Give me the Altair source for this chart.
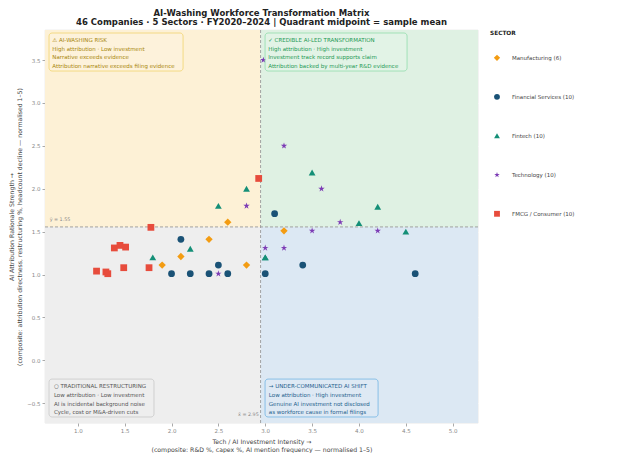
import altair as alt
import pandas as pd

# ---------------- data ----------------
sectors = ["Manufacturing", "Financial Services", "Fintech", "Technology", "FMCG / Consumer"]

mfg_x = [2.60, 2.40, 2.10, 1.90, 2.80, 3.20]
mfg_y = [1.61, 1.41, 1.21, 1.11, 1.11, 1.51]
fs_x = [3.10, 2.10, 2.50, 2.00, 2.20, 2.40, 2.60, 3.00, 3.40, 4.60]
fs_y = [1.71, 1.41, 1.11, 1.01, 1.01, 1.01, 1.01, 1.01, 1.11, 1.01]
fin_x = [2.80, 2.50, 2.20, 1.80, 3.50, 4.20, 4.00, 4.50, 3.00, 3.00]
fin_y = [2.00, 1.80, 1.30, 1.20, 2.19, 1.79, 1.60, 1.50, 1.20, 1.20]
tech_x = [2.80, 3.20, 3.60, 3.80, 3.50, 4.20, 3.00, 3.20, 2.50, 2.98]
tech_y = [1.80, 2.50, 2.00, 1.61, 1.51, 1.51, 1.31, 1.31, 1.01, 3.50]
fmcg_x = [2.93, 1.78, 1.39, 1.45, 1.51, 1.49, 1.76, 1.20, 1.30, 1.32]
fmcg_y = [2.12, 1.55, 1.31, 1.34, 1.32, 1.08, 1.08, 1.04, 1.03, 1.01]

x_mean = 2.95
y_mean = 1.555

x_ticks = [1.0, 1.5, 2.0, 2.5, 3.0, 3.5, 4.0, 4.5, 5.0]
y_ticks = [-0.5, 0.0, 0.5, 1.0, 1.5, 2.0, 2.5, 3.0, 3.5]
x_dom = [0.65, 5.27]
y_dom = [-0.73, 3.85]

colors = ["#f39c12", "#1a5276", "#148f77", "#7d3cb5", "#e74c3c"]
star = ("M0,-1L0.2245,-0.309L0.951,-0.309L0.363,0.118L0.588,0.809L0,0.382"
        "L-0.588,0.809L-0.363,0.118L-0.951,-0.309L-0.2245,-0.309Z")
diamond = "M0,-1.08L1.08,0L0,1.08L-1.08,0Z"
shapes = [diamond, "circle", "triangle-up", star, "square"]

# ---------------- tables ----------------
groups = [(mfg_x, mfg_y), (fs_x, fs_y), (fin_x, fin_y), (tech_x, tech_y), (fmcg_x, fmcg_y)]
labels = [f"{s} ({len(g[0])})" for s, g in zip(sectors, groups)]
rows = []
for lab, (xs, ys) in zip(labels, groups):
    for a, b in zip(xs, ys):
        rows.append({"x": a, "y": b, "sector": lab})
pts = pd.DataFrame(rows)

quad = pd.DataFrame([
    {"x": x_dom[0], "x2": x_mean, "y": y_mean, "y2": y_dom[1], "c": "#fdf1d6"},
    {"x": x_mean, "x2": x_dom[1], "y": y_mean, "y2": y_dom[1], "c": "#dff1e3"},
    {"x": x_dom[0], "x2": x_mean, "y": y_dom[0], "y2": y_mean, "c": "#eeeeee"},
    {"x": x_mean, "x2": x_dom[1], "y": y_dom[0], "y2": y_mean, "c": "#dce8f3"},
])

boxes = pd.DataFrame([
    {"x": 0.693, "x2": 2.123, "y": 3.815, "y2": 3.372, "f": "#fdf3dc", "s": "#f2d46b"},
    {"x": 2.998, "x2": 4.513, "y": 3.815, "y2": 3.372, "f": "#e3f4e7", "s": "#8fdcaa"},
    {"x": 0.693, "x2": 1.813, "y": -0.218, "y2": -0.660, "f": "#efefef", "s": "#c8c8c8"},
    {"x": 2.998, "x2": 4.204, "y": -0.218, "y2": -0.660, "f": "#dfeaf5", "s": "#6fb3e3"},
])

box_text = {
    "tl": ["⚠  AI-WASHING RISK", "High attribution · Low investment",
           "Narrative exceeds evidence", "Attribution narrative exceeds filing evidence"],
    "tr": ["✓  CREDIBLE AI-LED TRANSFORMATION", "High attribution · High investment",
           "Investment track record supports claim", "Attribution backed by multi-year R&D evidence"],
    "bl": ["○  TRADITIONAL RESTRUCTURING", "Low attribution · Low investment",
           "AI is incidental background noise", "Cycle, cost or M&A-driven cuts"],
    "br": ["→  UNDER-COMMUNICATED AI SHIFT", "Low attribution · High investment",
           "Genuine AI investment not disclosed", "as workforce cause in formal filings"],
}
box_pos = {
    "tl": (0.728, [3.733, 3.634, 3.535, 3.436], "#a8860a"),
    "tr": (3.032, [3.733, 3.634, 3.535, 3.436], "#229954"),
    "bl": (0.745, [-0.303, -0.404, -0.505, -0.606], "#555555"),
    "br": (3.038, [-0.303, -0.404, -0.505, -0.606], "#1f618d"),
}
trows = []
for k, lines in box_text.items():
    bx, ys, col = box_pos[k]
    for t, yy in zip(lines, ys):
        trows.append({"x": bx, "y": yy, "t": t, "c": col})
tdf = pd.DataFrame(trows)

means = pd.DataFrame([{"xm": x_mean, "ym": y_mean}])
mean_lab = pd.DataFrame([{"x": 0.70, "y": y_mean + 0.06, "t": f"ȳ = {y_mean:.2f}"}])
xmean_lab = pd.DataFrame([{"x": x_mean - 0.02, "y": -0.64, "t": f"x̄ = {x_mean:.2f}"}])

FONT = "DejaVu Sans"

xs = alt.Scale(domain=x_dom, nice=False, zero=False)
ys_ = alt.Scale(domain=y_dom, nice=False, zero=False)

x_axis = alt.Axis(values=x_ticks, format=".1f",
                  title=["Tech / AI Investment Intensity  →",
                         "(composite: R&D %, capex %, AI mention frequency — normalised 1–5)"])
y_axis = alt.Axis(values=y_ticks, format=".1f",
                  title=["AI Attribution Rationale Strength  →",
                         "(composite: attribution directness, restructuring %, headcount decline — normalised 1–5)"])

q = alt.Chart(quad).mark_rect().encode(
    x=alt.X("x:Q", scale=xs, axis=x_axis), x2="x2:Q",
    y=alt.Y("y:Q", scale=ys_, axis=y_axis), y2="y2:Q",
    fill=alt.Fill("c:N", scale=None),
)

vline = alt.Chart(means).mark_rule(color="#9a9a9a", strokeDash=[3, 2], strokeWidth=0.9).encode(
    x=alt.X("xm:Q", scale=xs))
hline = alt.Chart(means).mark_rule(color="#9a9a9a", strokeDash=[3, 2], strokeWidth=0.9).encode(
    y=alt.Y("ym:Q", scale=ys_))

points = alt.Chart(pts).mark_point(filled=True, opacity=1, strokeWidth=0, size=46).encode(
    x=alt.X("x:Q", scale=xs),
    y=alt.Y("y:Q", scale=ys_),
    color=alt.Color("sector:N", scale=alt.Scale(domain=labels, range=colors),
                    legend=alt.Legend(title="SECTOR")),
    shape=alt.Shape("sector:N", scale=alt.Scale(domain=labels, range=shapes),
                    legend=alt.Legend(title="SECTOR")),
)

bx = alt.Chart(boxes).mark_rect(cornerRadius=3, strokeWidth=0.9, opacity=0.85).encode(
    x=alt.X("x:Q", scale=xs), x2="x2:Q",
    y=alt.Y("y:Q", scale=ys_), y2="y2:Q",
    fill=alt.Fill("f:N", scale=None),
    stroke=alt.Stroke("s:N", scale=None),
)

bt = alt.Chart(tdf).mark_text(align="left", baseline="middle", font=FONT, fontSize=5.5).encode(
    x=alt.X("x:Q", scale=xs), y=alt.Y("y:Q", scale=ys_), text="t:N",
    fill=alt.Fill("c:N", scale=None),
)

ml = alt.Chart(mean_lab).mark_text(align="left", baseline="bottom", font=FONT, fontSize=4.8,
                                   color="#888888").encode(
    x=alt.X("x:Q", scale=xs), y=alt.Y("y:Q", scale=ys_), text="t:N")
xl = alt.Chart(xmean_lab).mark_text(align="right", baseline="middle", font=FONT, fontSize=4.8,
                                    color="#888888").encode(
    x=alt.X("x:Q", scale=xs), y=alt.Y("y:Q", scale=ys_), text="t:N")

chart = alt.layer(q, vline, hline, points, bx, bt, ml, xl).properties(
    width=433, height=393,
    padding={"left": 0, "top": 0, "right": 5, "bottom": 0},
    title=alt.TitleParams(
        text=["AI-Washing Workforce Transformation Matrix",
              "46 Companies · 5 Sectors · FY2020–2024  |  Quadrant midpoint = sample mean"],
        font=FONT, fontSize=8.5, fontWeight="bold", color="#222222",
        anchor="middle", frame="group", lineHeight=9.5, offset=3),
).configure_view(stroke="#dddddd", strokeWidth=0.6).configure_axis(
    labelFont=FONT, labelFontSize=5.5, labelColor="#888888",
    titleFont=FONT, titleFontSize=6.2, titleFontWeight="normal", titleColor="#444444",
    tickColor="#aaaaaa", tickSize=3, domain=False, labelPadding=2,
    grid=True, gridColor="#ffffff", gridDash=[1, 2], gridWidth=0.8, gridOpacity=0.9,
    zindex=1, titleLineHeight=8,
).configure_axisX(titlePadding=5).configure_axisY(titlePadding=4).configure_legend(
    orient="right", offset=12, padding=0,
    titleFont=FONT, titleFontSize=5.8, titleFontWeight="bold", titleColor="#222222", titlePadding=19,
    labelFont=FONT, labelFontSize=5.5, labelColor="#444444", labelOffset=12,
    symbolSize=34, symbolOffset=4, rowPadding=32, symbolStrokeWidth=0,
)

chart.save("out.html", embed_options={"renderer": "svg", "actions": False})
